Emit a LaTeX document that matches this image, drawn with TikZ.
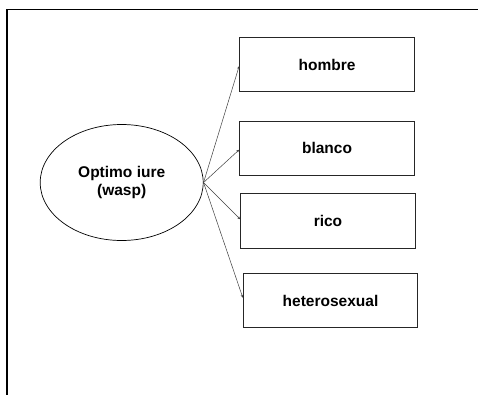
\documentclass[tikz,border=0pt]{standalone}
\usepackage{fontspec}
\setmainfont{Liberation Sans}
\usetikzlibrary{arrows.meta,shapes.geometric}
\begin{document}
\begin{tikzpicture}[x=1pt,y=-1pt,
  lbl/.style={font=\fontsize{15.5}{18}\selectfont\bfseries},
  box/.style={lbl,draw=black!85,line width=1pt,inner sep=0pt},
  conn/.style={draw=black!75,line width=0.5pt,-{Stealth[length=3pt,width=2.5pt]}}]
\useasboundingbox (0,0) rectangle (478,394);
\fill[white] (0,0) rectangle (478,394);
\draw[line width=1.4pt] (7,420) -- (7,9.5) -- (500,9.5);
\node[lbl,draw=black,line width=0.7pt,ellipse,minimum width=163pt,minimum height=116pt,inner sep=0pt,
  align=center] (o) at (121.7,182.5) {Optimo iure\\(wasp)};
\node[box,minimum width=174.6pt,minimum height=54.3pt] (h) at (327,64.8) {hombre};
\node[box,minimum width=174.6pt,minimum height=54pt] (b) at (327,148.3) {blanco};
\node[box,minimum width=174.6pt,minimum height=55pt] (r) at (328,220.8) {rico};
\node[box,minimum width=174.4pt,minimum height=54.4pt] (x) at (330.5,300.5) {heterosexual};
\coordinate (s) at (o.east);
\draw[conn] (s) -- (h.west |- 0,66);
\draw[conn] (s) -- (b.west |- 0,149.7);
\draw[conn] (s) -- (r.west |- 0,219.3);
\draw[conn] (s) -- (x.west |- 0,297.7);
\end{tikzpicture}
\end{document}
